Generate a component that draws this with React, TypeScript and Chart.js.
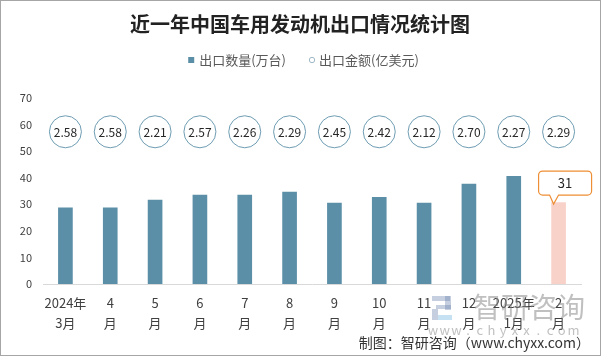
import React, { useEffect, useRef } from 'react';
import { Chart, registerables } from 'chart.js';

Chart.register(...registerables);

const TITLE = '近一年中国车用发动机出口情况统计图';
const CATEGORIES: string[][] = [
  ['2024年', '3月'], ['4', '月'], ['5', '月'], ['6', '月'], ['7', '月'], ['8', '月'],
  ['9', '月'], ['10', '月'], ['11', '月'], ['12', '月'], ['2025年', '1月'], ['2', '月'],
];
const QTY_LABEL = '出口数量(万台)';
const AMT_LABEL = '出口金额(亿美元)';
const QTY_VALUES = [28.6, 28.6, 31.5, 33.4, 33.4, 34.5, 30.4, 32.6, 30.4, 37.5, 40.5, 30.6];
const AMT_VALUES = [2.58, 2.58, 2.21, 2.57, 2.26, 2.29, 2.45, 2.42, 2.12, 2.70, 2.27, 2.29];
const Y_MIN = 0;
const Y_MAX = 70;
const Y_STEP = 10;
const HIGHLIGHT_INDEX = 11;
const FOOTER = '制图：智研咨询（www.chyxx.com）';

const BAR_COLOR = '#5b8fa7';
const HIGHLIGHT_COLOR = '#f8d2c9';
const CIRCLE_COLOR = '#6f9db3';
const CALLOUT_COLOR = '#ee8e35';
const FONT = '"Noto Sans CJK SC", "Noto Sans", sans-serif';
const BADGE_LEVEL = 57.2;

const decorPlugin = {
  id: 'decor',
  beforeDraw(chart: any) {
    const ctx = chart.ctx;
    ctx.save();
    ctx.fillStyle = '#ffffff';
    ctx.fillRect(0, 0, chart.width, chart.height);
    ctx.restore();
  },
  afterDatasetsDraw(chart: any) {
    const ctx = chart.ctx;
    const xs = chart.scales.x;
    const ys = chart.scales.y;
    const cy = ys.getPixelForValue(BADGE_LEVEL);
    ctx.save();
    AMT_VALUES.forEach((v, i) => {
      const cx = xs.getPixelForValue(i);
      ctx.beginPath();
      ctx.arc(cx, cy, 16, 0, Math.PI * 2);
      ctx.fillStyle = '#ffffff';
      ctx.fill();
      ctx.lineWidth = 1;
      ctx.strokeStyle = CIRCLE_COLOR;
      ctx.stroke();
      ctx.fillStyle = '#262626';
      ctx.font = `12px ${FONT}`;
      ctx.textAlign = 'center';
      ctx.textBaseline = 'middle';
      ctx.fillText(v.toFixed(2), cx, cy + 0.5);
    });
    const bar = chart.getDatasetMeta(0).data[HIGHLIGHT_INDEX];
    if (bar) {
      const bx = bar.x;
      const by = bar.y;
      const w = 53, h = 24, r = 4;
      const left = bx - 20;
      const bottom = by - 7.5;
      const top = bottom - h;
      const right = left + w;
      const tipX = bx - 5, tipY = by + 1.5;
      ctx.beginPath();
      ctx.moveTo(left + r, top);
      ctx.lineTo(right - r, top);
      ctx.arcTo(right, top, right, top + r, r);
      ctx.lineTo(right, bottom - r);
      ctx.arcTo(right, bottom, right - r, bottom, r);
      ctx.lineTo(bx, bottom);
      ctx.lineTo(tipX, tipY);
      ctx.lineTo(bx - 9, bottom);
      ctx.lineTo(left + r, bottom);
      ctx.arcTo(left, bottom, left, bottom - r, r);
      ctx.lineTo(left, top + r);
      ctx.arcTo(left, top, left + r, top, r);
      ctx.closePath();
      ctx.fillStyle = '#ffffff';
      ctx.fill();
      ctx.strokeStyle = CALLOUT_COLOR;
      ctx.lineWidth = 1.2;
      ctx.stroke();
      ctx.fillStyle = '#262626';
      ctx.font = `13px ${FONT}`;
      ctx.textAlign = 'center';
      ctx.textBaseline = 'middle';
      ctx.fillText(String(Math.round(QTY_VALUES[HIGHLIGHT_INDEX])), (left + right) / 2, (top + bottom) / 2 + 0.5);
    }
    ctx.restore();
  },
  afterDraw(chart: any) {
    const ctx = chart.ctx;
    ctx.save();
    ctx.fillStyle = '#222222';
    ctx.font = `bold 20px ${FONT}`;
    ctx.textAlign = 'center';
    ctx.textBaseline = 'middle';
    ctx.fillText(TITLE, 300, 24);

    ctx.font = `13px ${FONT}`;
    const w1 = ctx.measureText(QTY_LABEL).width;
    const w2 = ctx.measureText(AMT_LABEL).width;
    const total = 6 + 5 + w1 + 23 + 6 + 4 + w2;
    let x = 303.5 - total / 2;
    const ly = 60;
    ctx.fillStyle = BAR_COLOR;
    ctx.fillRect(x, ly - 3, 6, 6);
    x += 6 + 5;
    ctx.fillStyle = '#595959';
    ctx.textAlign = 'left';
    ctx.fillText(QTY_LABEL, x, ly + 0.5);
    x += w1 + 23;
    ctx.beginPath();
    ctx.arc(x + 3, ly, 2.7, 0, Math.PI * 2);
    ctx.strokeStyle = '#9fb9c8';
    ctx.lineWidth = 1;
    ctx.stroke();
    x += 6 + 4;
    ctx.fillStyle = '#595959';
    ctx.fillText(AMT_LABEL, x, ly + 0.5);

    // watermark
    ctx.fillStyle = 'rgba(110,135,175,0.4)';
    ctx.fillRect(432, 296, 18, 5);
    ctx.fillRect(445, 296, 6, 14);
    ctx.fillRect(436, 305, 15, 4);
    ctx.fillRect(432, 309, 6, 11);
    ctx.fillStyle = 'rgba(140,195,230,0.5)';
    ctx.fillRect(438, 315, 14, 5);
    ctx.fillStyle = 'rgba(130,130,130,0.5)';
    ctx.font = `28px ${FONT}`;
    ctx.textAlign = 'left';
    ctx.fillText('智研咨询', 473, 307);
    ctx.font = `13px ${FONT}`;
    ctx.textAlign = 'center';
    const wm = 'www.chyxx.com';
    for (let i = 0; i < wm.length; i++) {
      ctx.fillText(wm[i], 433 + i * 11.7, 330);
    }

    ctx.fillStyle = '#333333';
    ctx.font = `14px ${FONT}`;
    ctx.textAlign = 'right';
    ctx.fillText(FOOTER, 590, 343);

    ctx.strokeStyle = '#a6a6a6';
    ctx.lineWidth = 1;
    ctx.strokeRect(0.5, 0.5, 600, 355);
    ctx.restore();
  },
};

export default function App() {
  const ref = useRef<HTMLCanvasElement | null>(null);
  useEffect(() => {
    if (!ref.current) return;
    const chart = new Chart(ref.current, {
      type: 'bar',
      data: {
        labels: CATEGORIES,
        datasets: [
          {
            label: QTY_LABEL,
            data: QTY_VALUES,
            backgroundColor: QTY_VALUES.map((_, i) => (i === HIGHLIGHT_INDEX ? HIGHLIGHT_COLOR : BAR_COLOR)),
            barThickness: 14,
          },
        ],
      },
      options: {
        animation: false,
        responsive: false,
        layout: { padding: { top: 97.7, right: 21, bottom: 14, left: 8 } },
        plugins: {
          legend: { display: false },
          title: { display: false },
          tooltip: { enabled: false },
        },
        scales: {
          x: {
            grid: { display: false, drawTicks: false },
            border: { display: true, color: '#d9d9d9', width: 1 },
            ticks: {
              color: '#404040',
              font: { size: 13, family: FONT, lineHeight: 20 / 13 },
              padding: 9,
              maxRotation: 0,
              autoSkip: false,
            },
          },
          y: {
            min: Y_MIN,
            max: Y_MAX,
            grid: { display: false, drawTicks: false },
            border: { display: false },
            ticks: {
              stepSize: Y_STEP,
              color: '#404040',
              font: { size: 11, family: FONT },
              padding: 11,
            },
            afterFit: (axis: any) => {
              axis.width = 35;
            },
          },
        },
      },
      plugins: [decorPlugin],
    });
    return () => chart.destroy();
  }, []);
  return (
    <div style={{ position: 'fixed', left: 0, top: 0, width: 602, height: 356, background: '#fff' }}>
      <canvas ref={ref} width={602} height={356} style={{ width: 602, height: 356, display: 'block' }} />
    </div>
  );
}
